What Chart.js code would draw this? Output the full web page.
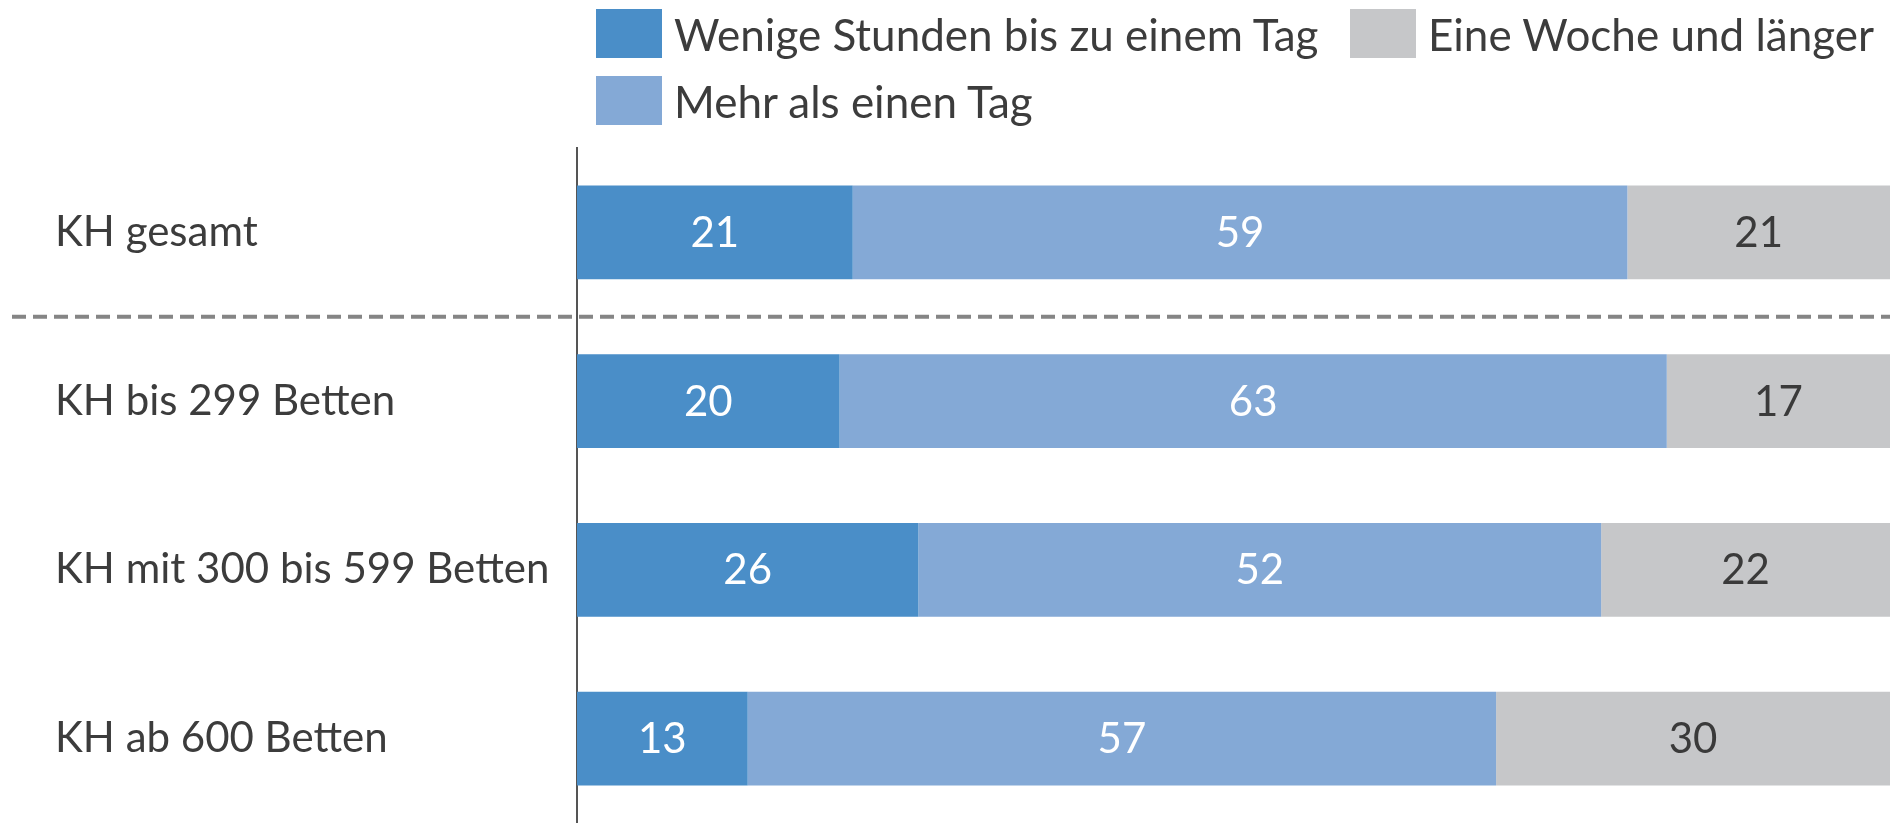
<!DOCTYPE html>
<html lang="de">
<head>
<meta charset="utf-8">
<script src="https://cdn.jsdelivr.net/npm/chart.js@4/dist/chart.umd.min.js"></script>
<style>
  html, body { margin: 0; padding: 0; background: #fff; }
  #wrap { position: relative; width: 1890px; height: 823px; }
  #legend {
    position: absolute; left: 596px; top: 9px;
    display: grid; grid-template-rows: 49px 49px; grid-auto-flow: column;
    grid-template-columns: 754px auto; row-gap: 18px;
    font-family: Lato, sans-serif; font-size: 44px; color: #3c3c3c;
  }
  .item { display: flex; align-items: center; white-space: nowrap; }
  .box { width: 66px; height: 49px; margin-right: 12px; flex: none; }
</style>
</head>
<body>
<div id="wrap">
  <canvas id="chart" width="1890" height="823"></canvas>
  <div id="legend"></div>
</div>
<script>
const categories = ['KH gesamt', 'KH bis 299 Betten', 'KH mit 300 bis 599 Betten', 'KH ab 600 Betten'];
const seriesNames = ['Wenige Stunden bis zu einem Tag', 'Mehr als einen Tag', 'Eine Woche und länger'];
const wenigeStunden = [21, 20, 26, 13];
const mehrAlsTag = [59, 63, 52, 57];
const eineWoche = [21, 17, 22, 30];
const colors = ['#4a8ec8', '#84a9d6', '#c6c7c9'];
const labelColors = ['#ffffff', '#ffffff', '#3a3a3a'];

const FONT = 'Lato, sans-serif';

// html legend, two rows filled column by column
const legend = document.getElementById('legend');
seriesNames.forEach((name, i) => {
  const item = document.createElement('div');
  item.className = 'item';
  item.innerHTML = `<span class="box" style="background:${colors[i]}"></span>${name}`;
  legend.appendChild(item);
});

const valueLabels = {
  id: 'valueLabels',
  afterDatasetsDraw(chart) {
    const ctx = chart.ctx;
    const area = chart.chartArea;
    ctx.save();
    ctx.font = '42px ' + FONT;
    ctx.textAlign = 'center';
    ctx.textBaseline = 'middle';
    chart.data.datasets.forEach((ds, di) => {
      chart.getDatasetMeta(di).data.forEach((bar, i) => {
        const p = bar.getProps(['x', 'base', 'y'], true);
        const left = Math.max(Math.min(p.x, p.base), area.left);
        const right = Math.min(Math.max(p.x, p.base), area.right);
        ctx.fillStyle = labelColors[di];
        ctx.fillText(ds.data[i], (left + right) / 2, p.y + 1);
      });
    });
    ctx.restore();
  }
};

const separator = {
  id: 'separator',
  afterDatasetsDraw(chart) {
    const y = chart.scales.y;
    const yy = (y.getPixelForValue(0) + y.getPixelForValue(1)) / 2;
    const ctx = chart.ctx;
    ctx.save();
    ctx.strokeStyle = '#858585';
    ctx.lineWidth = 4;
    ctx.setLineDash([14, 7]);
    ctx.beginPath();
    ctx.moveTo(12, yy);
    ctx.lineTo(chart.width, yy);
    ctx.stroke();
    ctx.restore();
  }
};

new Chart(document.getElementById('chart'), {
  type: 'bar',
  data: {
    labels: categories,
    datasets: [
      { label: seriesNames[0], data: wenigeStunden, backgroundColor: colors[0] },
      { label: seriesNames[1], data: mehrAlsTag, backgroundColor: colors[1] },
      { label: seriesNames[2], data: eineWoche, backgroundColor: colors[2] }
    ]
  },
  options: {
    indexAxis: 'y',
    responsive: false,
    animation: false,
    events: [],
    layout: { padding: { top: 148, left: 55, right: 0, bottom: 0 } },
    datasets: { bar: { categoryPercentage: 1, barPercentage: 0.556, borderWidth: 0 } },
    scales: {
      x: { stacked: true, min: 0, max: 100, display: false },
      y: {
        stacked: true,
        grid: { display: false },
        border: { display: true, color: '#555', width: 2 },
        ticks: {
          crossAlign: 'far',
          padding: 0,
          color: '#3c3c3c',
          font: { family: FONT, size: 42 }
        },
        afterFit(scale) {
          scale.width = 522;
          scale.paddingTop = 0;
          scale.paddingBottom = 0;
        }
      }
    },
    plugins: {
      legend: { display: false },
      tooltip: { enabled: false }
    }
  },
  plugins: [valueLabels, separator]
});
</script>
</body>
</html>
